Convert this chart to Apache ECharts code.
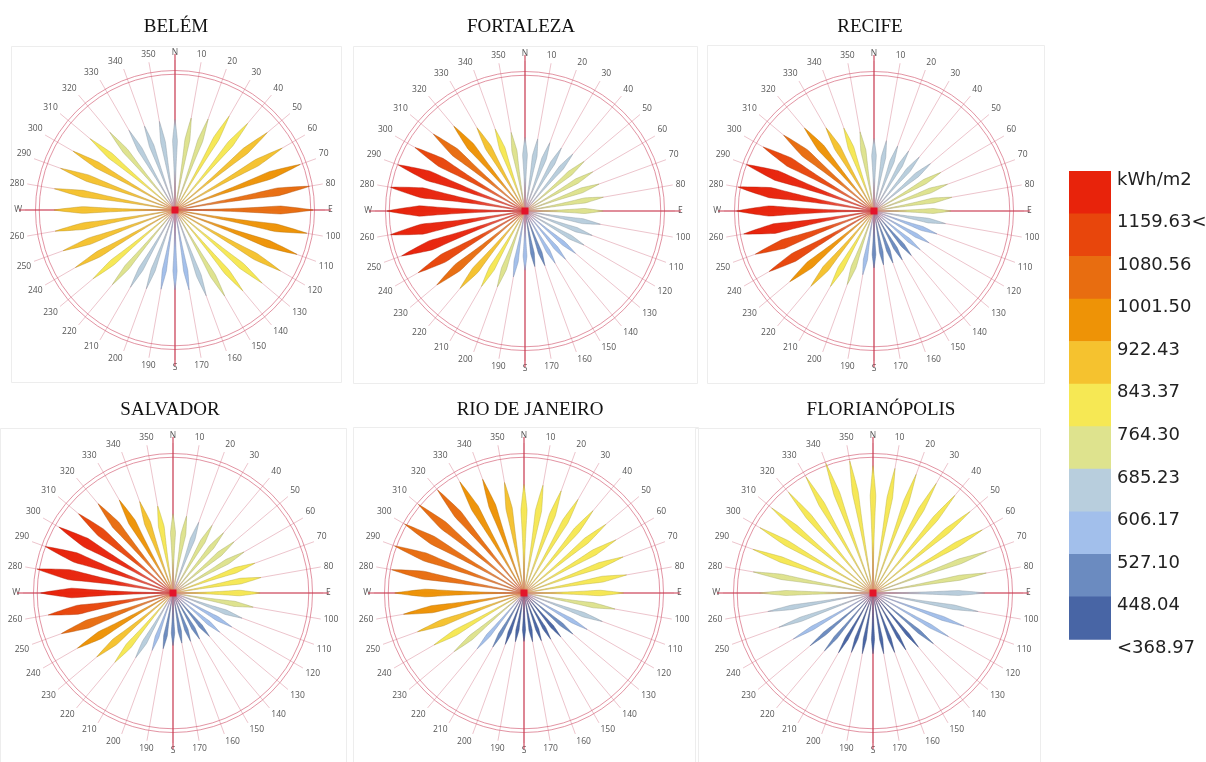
<!DOCTYPE html>
<html>
<head>
<meta charset="utf-8">
<script src="https://cdn.jsdelivr.net/npm/echarts@6/dist/echarts.min.js"></script>
<style>
  html, body { margin: 0; padding: 0; background: #ffffff; }
  #chart { width: 1206px; height: 762px; }
</style>
</head>
<body>
<div id="chart"></div>
<script>
// Compass directions of the 36 petals (degrees, clockwise from north)
const directions = [0, 10, 20, 30, 40, 50, 60, 70, 80, 90, 100, 110, 120, 130, 140, 150, 160, 170,
                    180, 190, 200, 210, 220, 230, 240, 250, 260, 270, 280, 290, 300, 310, 320, 330, 340, 350];

const cityNames = ['BELÉM', 'FORTALEZA', 'RECIFE', 'SALVADOR', 'RIO DE JANEIRO', 'FLORIANÓPOLIS'];

// Annual radiation per direction, kWh/m2
const belem        = [670, 690, 715, 800, 835, 890, 915, 985, 1010, 1020, 990, 960, 900, 840, 780, 735, 675, 600,
                      590, 595, 620, 660, 720, 790, 850, 880, 900, 895, 905, 900, 870, 820, 750, 680, 660, 665];
const fortaleza    = [660, 655, 650, 650, 665, 690, 700, 705, 712, 700, 685, 640, 610, 590, 565, 540, 520, 505,
                      530, 600, 723, 780, 905, 1030, 1104, 1175, 1222, 1235, 1222, 1208, 1137, 1071, 991, 860, 780, 714];
const recife       = [650, 640, 620, 620, 630, 660, 690, 700, 708, 690, 650, 600, 570, 540, 520, 505, 495, 490,
                      510, 580, 700, 780, 880, 985, 1085, 1131, 1185, 1230, 1236, 1215, 1146, 1057, 970, 860, 790, 720];
const salvador     = [700, 690, 665, 690, 695, 705, 725, 770, 790, 770, 720, 650, 600, 540, 500, 470, 455, 450,
                      465, 500, 540, 660, 800, 880, 975, 1050, 1120, 1170, 1220, 1200, 1165, 1090, 1030, 950, 860, 780];
const rio          = [834, 840, 835, 830, 825, 820, 815, 810, 800, 765, 710, 640, 560, 490, 440, 410, 390, 380,
                      372, 380, 420, 480, 560, 700, 798, 870, 940, 993, 1032, 1058, 1060, 1058, 1034, 986, 930, 862];
const florianopolis= [775, 770, 768, 770, 775, 770, 768, 735, 700, 680, 650, 590, 530, 480, 430, 400, 385, 375,
                      370, 375, 385, 420, 460, 500, 560, 610, 650, 690, 740, 778, 795, 805, 800, 816, 840, 816];

const cityValues = [belem, fortaleza, recife, salvador, rio, florianopolis];

// Colour classes (lower bounds, ascending) and legend tick labels (top to bottom)
const classBreaks = [368.97, 448.04, 527.10, 606.17, 685.23, 764.30, 843.37, 922.43, 1001.50, 1080.56, 1159.63, 1238.70];
const legendTicks = ['kWh/m2', '1159.63<', '1080.56', '1001.50', '922.43', '843.37', '764.30',
                     '685.23', '606.17', '527.10', '448.04', '<368.97'];
const cardinalNames = { 0: 'N', 90: 'E', 180: 'S', 270: 'W' };

// ---- styling / layout ----
const palette = ['#4865a5', '#6b8bc0', '#a2bfeb', '#b8cedd', '#dee38e', '#f6e854',
                 '#f5c22f', '#ee9306', '#e86d10', '#e8460c', '#e8230b'];   // low -> high
const centers = [[175, 210], [525, 211], [874, 211], [173, 593], [524, 593], [873, 593]];
const titlePos = [[176, 27], [521, 27], [870, 27], [170, 410], [530, 410], [881, 410]];
const frames = [[11, 46, 330, 336], [353, 46, 344, 337], [707, 45, 337, 338],
                [0, 428, 346, 334], [353, 427, 345, 335], [695, 428, 345, 334]];
const ROSE_R = 150;          // spoke length in px
const RING_FRAC = [0.905, 0.93];
const PETAL_FRAC = 0.92;     // longest petal reaches the inner ring

function hexToRgb(hex) {
  const h = hex.replace('#', '');
  return [parseInt(h.slice(0, 2), 16), parseInt(h.slice(2, 4), 16), parseInt(h.slice(4, 6), 16)];
}
function rgba(rgb, a) { return 'rgba(' + rgb[0] + ',' + rgb[1] + ',' + rgb[2] + ',' + a + ')'; }
function shade(rgb, k) { return rgb.map(c => Math.round(c * k)); }

// Width profile of a petal along its length (fraction of max half-width)
function petalWidth(f) {
  const peak = 0.76;
  if (f <= peak) return 0.06 + 0.94 * Math.pow(f / peak, 1.9);
  return Math.pow((1 - f) / (1 - peak), 0.85);
}

function renderPetal(params, api) {
  const v = api.value(0);
  const a = api.value(1);
  const c = api.coord([0, a]);
  const t = api.coord([v, a]);
  const dx = t[0] - c[0], dy = t[1] - c[1];
  const L = Math.hypot(dx, dy);
  if (!L) return;
  const ux = dx / L, uy = dy / L;
  const px = -uy, py = ux;
  const lo = classBreaks[0], hi = classBreaks[classBreaks.length - 1];
  const s = Math.min(1, Math.max(0, (v - lo) / (hi - lo)));
  const hw = 1.6 + 3.7 * Math.pow(s, 1.4);
  const left = [], right = [];
  const steps = 30;
  for (let i = 0; i < steps; i++) {
    const f = i / steps;
    const w = hw * petalWidth(f);
    const bx = c[0] + ux * L * f, by = c[1] + uy * L * f;
    left.push([bx + px * w, by + py * w]);
    right.push([bx - px * w, by - py * w]);
  }
  const points = left.concat([[t[0], t[1]]], right.reverse());
  const col = hexToRgb(api.visual('color'));
  const fill = new echarts.graphic.LinearGradient(c[0], c[1], t[0], t[1], [
    { offset: 0, color: rgba(col, 0.25) },
    { offset: 0.4, color: rgba(col, 0.95) },
    { offset: 1, color: rgba(col, 1) }
  ], true);
  return {
    type: 'polygon',
    shape: { points: points },
    style: { fill: fill, stroke: rgba(shade(col, 0.74), 0.85), lineWidth: 0.5 }
  };
}

function renderRings(params, api) {
  const cs = params.coordSys;
  const children = [];
  RING_FRAC.forEach(k => {
    children.push({
      type: 'circle',
      shape: { cx: cs.cx, cy: cs.cy, r: cs.r * k },
      style: { fill: null, stroke: 'rgba(212,96,118,0.75)', lineWidth: 0.9 }
    });
  });
  [0, 90, 180, 270].forEach(deg => {
    const rad = deg * Math.PI / 180;
    const len = cs.r * 1.04;
    children.push({
      type: 'line',
      shape: { x1: cs.cx, y1: cs.cy, x2: cs.cx + Math.sin(rad) * len, y2: cs.cy - Math.cos(rad) * len },
      style: { stroke: '#c9394f', lineWidth: 1.1 }
    });
  });
  return { type: 'group', children: children };
}

function renderHub(params, api) {
  const cs = params.coordSys;
  return {
    type: 'group',
    children: [
      {
        type: 'circle',
        shape: { cx: cs.cx, cy: cs.cy, r: 15 },
        style: {
          fill: new echarts.graphic.RadialGradient(0.5, 0.5, 0.5, [
            { offset: 0, color: 'rgba(240,90,110,0.55)' },
            { offset: 1, color: 'rgba(255,200,210,0)' }
          ])
        }
      },
      {
        type: 'rect',
        shape: { x: cs.cx - 3.5, y: cs.cy - 3.5, width: 7, height: 7 },
        style: { fill: '#e3142a' }
      }
    ]
  };
}

const polar = [], angleAxis = [], radiusAxis = [], series = [];
cityValues.forEach((vals, i) => {
  polar.push({ center: centers[i], radius: ROSE_R });
  angleAxis.push({
    polarIndex: i, type: 'value', min: 0, max: 360, interval: 10,
    startAngle: 90, clockwise: true,
    axisLine: { show: false }, axisTick: { show: false },
    axisLabel: {
      margin: 3, fontSize: 8.5, color: '#555', fontFamily: 'Open Sans',
      formatter: v => cardinalNames[v] || String(v)
    },
    splitLine: { show: true, lineStyle: { color: 'rgba(214,130,148,0.6)', width: 0.8 } }
  });
  radiusAxis.push({
    polarIndex: i, type: 'value', min: 0, max: Math.max(...vals) / PETAL_FRAC,
    axisLine: { show: false }, axisTick: { show: false }, axisLabel: { show: false }, splitLine: { show: false }
  });
  series.push({
    type: 'custom', coordinateSystem: 'polar', polarIndex: i, z: 1, silent: true,
    data: [[0, 0]], encode: { radius: 0, angle: 1 }, renderItem: renderRings
  });
  series.push({
    type: 'custom', name: cityNames[i], coordinateSystem: 'polar', polarIndex: i, z: 2,
    data: vals.map((v, k) => [v, directions[k]]),
    encode: { radius: 0, angle: 1 },
    renderItem: renderPetal
  });
  series.push({
    type: 'custom', coordinateSystem: 'polar', polarIndex: i, z: 3, silent: true,
    data: [[0, 0]], encode: { radius: 0, angle: 1 }, renderItem: renderHub
  });
});

const petalSeriesIdx = series.map((s, k) => (s.name ? k : -1)).filter(k => k >= 0);
const pieces = palette.map((col, k) => {
  const p = { color: col };
  if (k > 0) p.gte = classBreaks[k];
  if (k < palette.length - 1) p.lt = classBreaks[k + 1];
  return p;
});

// Graphic layer: titles, panel frames, legend bar
const graphics = [];
frames.forEach(f => graphics.push({
  type: 'rect', z: -1, silent: true,
  shape: { x: f[0] + 0.5, y: f[1] + 0.5, width: f[2], height: f[3] },
  style: { fill: null, stroke: '#ededed', lineWidth: 1 }
}));
cityNames.forEach((name, i) => graphics.push({
  type: 'text', x: titlePos[i][0], y: titlePos[i][1],
  style: { text: name, font: '19px "Liberation Serif", serif', fill: '#111', textAlign: 'center', textVerticalAlign: 'middle', verticalAlign: 'middle' }
}));
const LEG_X = 1069, LEG_TOP = 171, LEG_W = 42, LEG_H = 42.55;
const bands = palette.slice().reverse();
bands.forEach((col, k) => graphics.push({
  type: 'rect', silent: true,
  shape: { x: LEG_X, y: LEG_TOP + k * LEG_H, width: LEG_W, height: LEG_H + 0.6 },
  style: { fill: col }
}));
legendTicks.forEach((txt, k) => graphics.push({
  type: 'text', x: 1117, y: 180 + k * LEG_H,
  style: { text: txt, font: '18px "DejaVu Sans", sans-serif', fill: '#222', textAlign: 'left', textVerticalAlign: 'middle', verticalAlign: 'middle' }
}));

const chart = echarts.init(document.getElementById('chart'), null, { renderer: 'canvas' });
chart.setOption({
  backgroundColor: '#ffffff',
  animation: false,
  polar: polar,
  angleAxis: angleAxis,
  radiusAxis: radiusAxis,
  visualMap: {
    type: 'piecewise', show: false, dimension: 0,
    seriesIndex: petalSeriesIdx, pieces: pieces
  },
  series: series,
  graphic: graphics
});
</script>
</body>
</html>
